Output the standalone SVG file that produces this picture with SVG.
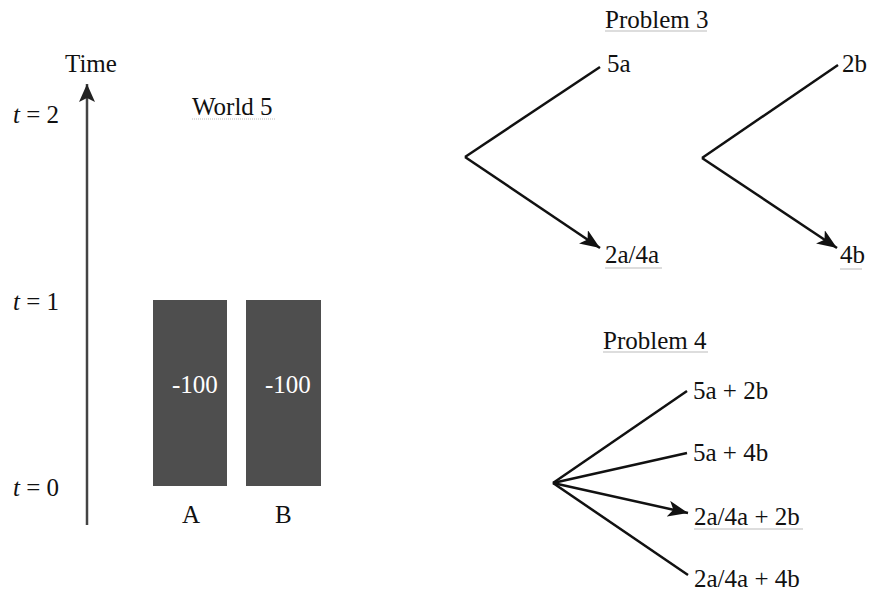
<svg xmlns="http://www.w3.org/2000/svg" width="872" height="595" viewBox="0 0 872 595">
<style>
text{font-family:"Liberation Serif","Times New Roman",serif;font-size:25px;fill:#111}
.w{fill:#fff}
.ln{stroke:#111;stroke-width:2.5;fill:none}
.ul{stroke:#bbb;stroke-width:1}
.box{fill:#4e4e4e}
</style>
<defs>
<marker id="ah" markerUnits="userSpaceOnUse" markerWidth="22" markerHeight="16" refX="20" refY="8" orient="auto">
<path d="M0,0 L20,8 L0,16 L5,8 z" fill="#111"/>
</marker>
<marker id="ahv" markerUnits="userSpaceOnUse" markerWidth="20" markerHeight="16" refX="18" refY="8" orient="auto">
<path d="M0,0 L18,8 L0,16 L4,8 z" fill="#222"/>
</marker>
</defs>
<g id="timeline">
<line x1="87" y1="525" x2="87" y2="84" stroke="#444" stroke-width="2.5" marker-end="url(#ahv)"/>
<text x="65" y="72">Time</text>
<text x="13" y="123"><tspan font-style="italic">t</tspan> = 2</text>
<text x="13" y="310"><tspan font-style="italic">t</tspan> = 1</text>
<text x="13" y="496"><tspan font-style="italic">t</tspan> = 0</text>
</g>
<g id="world5">
<text x="192" y="115">World 5</text>
<line class="ul" x1="192" y1="119" x2="275" y2="119" stroke-dasharray="1,1"/>
</g>
<g id="boxA">
<rect class="box" x="153" y="300" width="74" height="186"/>
<text class="w" x="172" y="393">-100</text>
<text x="182" y="523">A</text>
</g>
<g id="boxB">
<rect class="box" x="246" y="300" width="75" height="186"/>
<text class="w" x="265" y="393">-100</text>
<text x="275" y="523">B</text>
</g>
<g id="problem3">
<text x="605" y="28">Problem 3</text>
<line class="ul" x1="605" y1="31" x2="707" y2="31"/>
<text x="607" y="72">5a</text>
<text x="605" y="263">2a/4a</text>
<line class="ul" x1="605" y1="268" x2="662" y2="268"/>
<text x="842" y="72">2b</text>
<text x="840" y="263">4b</text>
<line class="ul" x1="840" y1="269" x2="862" y2="269"/>
</g>
<g id="problem4">
<text x="603" y="349">Problem 4</text>
<line class="ul" x1="603" y1="352" x2="708" y2="352"/>
<text x="693" y="399">5a + 2b</text>
<text x="693" y="461">5a + 4b</text>
<text x="694" y="525">2a/4a + 2b</text>
<line class="ul" x1="694" y1="529" x2="803" y2="529"/>
<text x="694" y="587">2a/4a + 4b</text>
</g>
<g id="connectors">
<line class="ln" x1="600" y1="67" x2="465" y2="157"/>
<line class="ln" x1="465" y1="157" x2="600" y2="248" marker-end="url(#ah)"/>
<line class="ln" x1="838" y1="65" x2="702" y2="158"/>
<line class="ln" x1="702" y1="158" x2="837" y2="248" marker-end="url(#ah)"/>
<line class="ln" x1="553" y1="483" x2="687" y2="391"/>
<line class="ln" x1="553" y1="483" x2="687" y2="453"/>
<line class="ln" x1="553" y1="483" x2="688" y2="513" marker-end="url(#ah)"/>
<line class="ln" x1="553" y1="483" x2="688" y2="575"/>
</g>
</svg>
